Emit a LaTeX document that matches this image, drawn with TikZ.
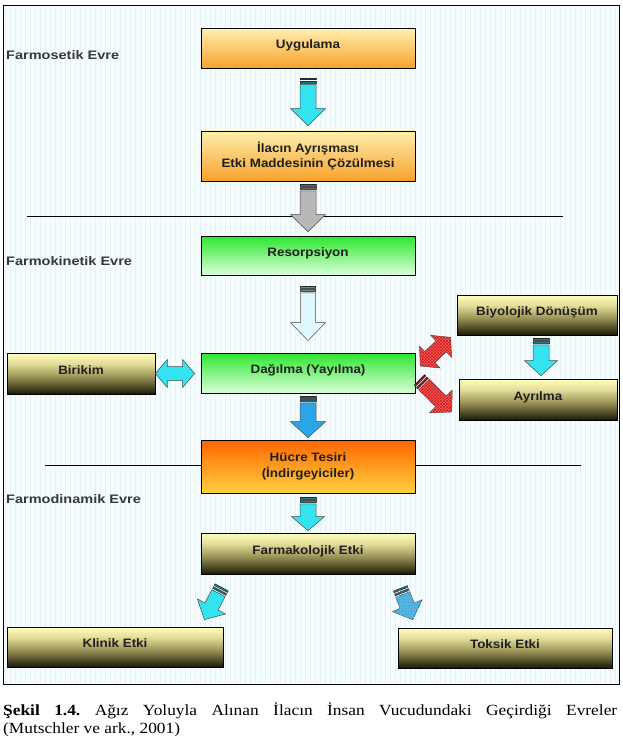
\documentclass[tikz,border=0pt]{standalone}
\usepackage{fontspec}
\setmainfont{Liberation Sans}
\newfontfamily\boxfont[FakeStretch=1.1]{Liberation Sans}
\newfontfamily\evrefont[FakeStretch=1.18]{Liberation Sans}
\newfontfamily\capfont[FakeStretch=1.12]{Liberation Serif}
\usetikzlibrary{calc,patterns}
\definecolor{bgc}{HTML}{F4FCFE}
\definecolor{gridc}{HTML}{E6F2F7}
\definecolor{oTop}{HTML}{FFEFAE}
\definecolor{oBot}{HTML}{F6A12A}
\definecolor{gTop}{HTML}{2EE62E}
\definecolor{gBot}{HTML}{DAFFDA}
\definecolor{hTop}{HTML}{FF6600}
\definecolor{hBot}{HTML}{FFD040}
\definecolor{yL}{HTML}{FFFFBA}
\definecolor{yM}{HTML}{E2DD9A}
\definecolor{yMD}{HTML}{A39C5E}
\definecolor{yD}{HTML}{1A1A06}
\definecolor{cyanA}{HTML}{33E3F0}
\definecolor{grayA}{HTML}{B8B8B8}
\definecolor{paleA}{HTML}{DDF7FD}
\definecolor{blueA}{HTML}{2AA6E6}
\definecolor{redA}{HTML}{FF5C5C}
\definecolor{redP}{HTML}{C81E1E}
\definecolor{blueP}{HTML}{1E80C0}
\definecolor{blueB}{HTML}{3EC0F0}
\pgfdeclareverticalshading{yshade}{100bp}{color(0bp)=(yD); color(25bp)=(yD); color(48bp)=(yMD); color(62bp)=(yM); color(75bp)=(yL); color(100bp)=(yL)}

\newcommand\arrowcalc[2]{%
  \pgfpointdiff{\pgfpointanchor{#1}{center}}{\pgfpointanchor{#2}{center}}%
  \pgfgetlastxy{\ax}{\ay}%
  \pgfmathsetmacro\aL{veclen(\ax,\ay)}%
  \pgfmathsetmacro\aA{atan2(\ay,\ax)}%
}
% \sarrow[style]{from}{to}{w}{H}{h}
\newcommand\sarrow[6][]{%
  \arrowcalc{#2}{#3}%
  \pgfmathsetmacro\aB{\aL-#6}%
  \begin{scope}[shift={(#2)}, rotate=\aA]
    \filldraw[#1] (0,-#4) rectangle (1.8,#4);
    \fill[black, opacity=0.45] (0,-#4) rectangle (1.8,#4);
    \filldraw[#1] (3.3,-#4) rectangle (5.1,#4);
    \fill[black, opacity=0.45] (3.3,-#4) rectangle (5.1,#4);
    \filldraw[#1] (6.6,-#4) -- (\aB,-#4) -- (\aB,-#5) -- (\aL,0) -- (\aB,#5) -- (\aB,#4) -- (6.6,#4) -- cycle;
  \end{scope}}
% \darrow[style]{from}{to}{w}{H}{h}
\newcommand\darrow[6][]{%
  \arrowcalc{#2}{#3}%
  \pgfmathsetmacro\aB{\aL-#6}%
  \begin{scope}[shift={(#2)}, rotate=\aA]
    \filldraw[#1] (0,0) -- (#6,-#5) -- (#6,-#4) -- (\aB,-#4) -- (\aB,-#5) -- (\aL,0) -- (\aB,#5) -- (\aB,#4) -- (#6,#4) -- (#6,#5) -- cycle;
  \end{scope}}

\begin{document}
\begin{tikzpicture}[x=1pt,y=-1pt,
  boxbase/.style={draw=black, line width=0.7pt, minimum width=214, minimum height=40,
    font=\boxfont\bfseries\fontsize{12.2}{15.5}\selectfont, text=black!88, align=center, inner sep=0pt},
  one/.style={text height=10pt, text depth=9pt},
  obox/.style={boxbase, top color=oTop, bottom color=oBot},
  gbox/.style={boxbase, top color=gTop, bottom color=gBot},
  hbox/.style={boxbase, top color=hTop, bottom color=hBot},
  ybox/.style={boxbase, shading=yshade},
  evre/.style={anchor=west, inner sep=0pt, font=\evrefont\bfseries\fontsize{12.3}{14}\selectfont, text=black!78},
  captxt/.style={anchor=base west, inner sep=0pt, font=\capfont\frenchspacing\fontsize{15.5}{18}\selectfont},
  sep/.style={line width=0.7pt, draw=black},
  arrbase/.style={draw=black!70, line width=0.5pt},
  cyanarr/.style={arrbase, fill=cyanA},
  grayarr/.style={arrbase, fill=grayA},
  palearr/.style={arrbase, fill=paleA},
  bluearr/.style={arrbase, fill=blueA},
  redarr/.style={arrbase, fill=redA, postaction={pattern=crosshatch, pattern color=redP}},
  gridarr/.style={arrbase, fill=blueB, postaction={pattern=grid, pattern color=blueP!70}},
]
\useasboundingbox (0,0) rectangle (622,746);
\fill[white] (0,0) rectangle (622,746);
\fill[bgc] (3,5) rectangle (619,684);
\draw[gridc, line width=0.3pt, step=5] (3,5) grid (619,684);
\draw[line width=0.8pt] (3,5) rectangle (619,684);

% separators
\draw[sep] (27,216) -- (563,216);

% boxes
\node[obox, one] (u) at (308,48.5) {Uygulama};
\node[obox, minimum height=50] (i) at (308,156) {İlacın Ayrışması\\Etki Maddesinin Çözülmesi};
\node[gbox, one, minimum height=39] (r) at (308,255.5) {Resorpsiyon};
\node[gbox, one] (d) at (308,373) {Dağılma (Yayılma)};
\node[hbox, minimum height=53] (h) at (308,466.5) {Hücre Tesiri\\(İndirgeyiciler)};
\node[ybox, one, minimum height=41] (f) at (308,553.5) {Farmakolojik Etki};
\node[ybox, one, minimum width=160] (b) at (537,315) {Biyolojik Dönüşüm};
\node[ybox, one, minimum width=158, minimum height=41] (a) at (538,399.5) {Ayrılma};
\node[ybox, one, minimum width=148, minimum height=41] (k) at (81,373.5) {Birikim};
\node[ybox, one, minimum width=216] (ke) at (115,647) {Klinik Etki};
\node[ybox, one] (t) at (505,648) {Toksik Etki};

\draw[sep] (45,465) -- (h.west |- 0,465);
\draw[sep] (h.east |- 0,465) -- (581,465);

% evre labels
\node[evre] (e1) at (6,55) {Farmosetik Evre};
\node[evre] (e2) at (6,261) {Farmokinetik Evre};
\node[evre] (e3) at (6,499) {Farmodinamik Evre};

% arrow end points
\coordinate (a1s) at ($(u.south)+(0,9)$);  \coordinate (a1e) at ($(i.north)+(0,-5)$);
\coordinate (a2s) at ($(i.south)+(0,3)$);  \coordinate (a2e) at ($(r.north)+(0,-4)$);
\coordinate (a3s) at ($(r.south)+(0,11)$); \coordinate (a3e) at ($(d.north)+(0,-12)$);
\coordinate (a4s) at ($(d.south)+(0,3)$);  \coordinate (a4e) at ($(h.north)+(0,-2)$);
\coordinate (a5s) at ($(b.south)+(4,3)$);  \coordinate (a5e) at ($(a.north)+(3,-3)$);
\coordinate (a6s) at ($(k.east)+(0,0)$);   \coordinate (a6e) at ($(d.west)+(-6,0.5)$);
\coordinate (a7s) at ($(h.south)+(0,4)$);  \coordinate (a7e) at ($(f.north)+(0,-2)$);
\coordinate (a8s) at ($(f.south west)+(21,13)$); \coordinate (a8e) at ($(ke.north east)+(-19,-7)$);
\coordinate (a9s) at ($(f.south east)+(-15,14)$); \coordinate (a9e) at ($(t.north west)+(15,-8)$);
\coordinate (r1s) at ($(d.east)+(5,-7)$);  \coordinate (r1e) at ($(b.south west)+(-6,2)$);
\coordinate (r2s) at ($(d.east)+(4,7)$);   \coordinate (r2e) at ($(a.west)+(-7,12.5)$);

% arrows
\sarrow[cyanarr]{a1s}{a1e}{8}{17.5}{17}
\sarrow[grayarr]{a2s}{a2e}{8}{17.5}{17}
\sarrow[palearr]{a3s}{a3e}{7.5}{17.5}{18}
\sarrow[bluearr]{a4s}{a4e}{8}{17.5}{16}
\sarrow[cyanarr]{a5s}{a5e}{8}{16.5}{15}
\darrow[cyanarr]{a6s}{a6e}{7}{14}{12}
\sarrow[cyanarr]{a7s}{a7e}{8}{16.5}{14}
\sarrow[cyanarr]{a8s}{a8e}{7.5}{16}{15}
\sarrow[gridarr]{a9s}{a9e}{7.5}{16}{15}
\darrow[redarr]{r1s}{r1e}{7.5}{15}{13}
\sarrow[redarr]{r2s}{r2e}{7.5}{16}{15}

% caption
\node[captxt] (cap1) at (3,715) {\makebox[614pt][s]{\textbf{Şekil 1.4.} Ağız Yoluyla Alınan İlacın İnsan Vucudundaki Geçirdiği Evreler}};
\node[captxt] (cap2) at (3,733) {(Mutschler ve ark., 2001)};
\end{tikzpicture}
\end{document}
